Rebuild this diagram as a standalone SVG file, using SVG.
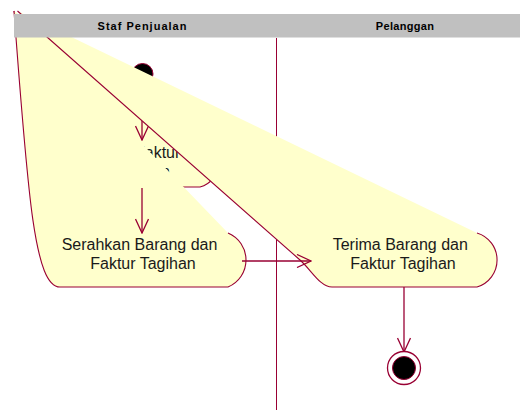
<svg xmlns="http://www.w3.org/2000/svg" width="520" height="410" viewBox="0 0 520 410">
  <style>
    .lane-head { fill: #C0C0C0; }
    .lane-title { font-family: "Liberation Sans", Arial, sans-serif; font-size: 11px; font-weight: bold; fill: #000; text-anchor: middle; }
    .lane-line { stroke: #990033; stroke-width: 1; fill: none; }
    .act-fill { fill: #FFFFCC; stroke: none; }
    .act-edge { fill: none; stroke: #990033; stroke-width: 1.1; }
    .act-text { font-family: "Liberation Sans", Arial, sans-serif; font-size: 16px; fill: #1a1a1a; text-anchor: middle; }
    .flow { fill: none; stroke: #990033; stroke-width: 1.3; marker-end: url(#open-arrow); }
  </style>
  <defs>
    <marker id="open-arrow" markerUnits="userSpaceOnUse" viewBox="0 0 16 14" refX="15" refY="7" markerWidth="16" markerHeight="14" orient="auto">
      <path d="M1,0.5 L15,7 L1,13.5" fill="none" stroke="#990033" stroke-width="1.3"/>
    </marker>
  </defs>

  <rect x="0" y="0" width="520" height="410" fill="#FFFFFF"/>

  <!-- swimlane divider -->
  <line class="lane-line" x1="276.5" y1="38" x2="276.5" y2="410"/>

  <!-- initial state -->
  <g id="start">
    <circle cx="142.5" cy="74" r="10.5" fill="#000" stroke="#990033" stroke-width="1"/>
  </g>

  <!-- activity: Buat Faktur Tagihan -->
  <g id="buat-faktur">
    <path class="act-fill" d="M200,140 A24.3,24.3 0 0 1 200,187 L84,187 C62,187 52,150 14,11 Z"/>
    <path class="act-edge" d="M200,140 A24.3,24.3 0 0 1 200,187 L84,187 C62,187 52,150 14,11"/>
    <text class="act-text" x="139" y="158">Buat Faktur</text>
    <text class="act-text" x="142" y="177">Tagihan</text>
  </g>

  <!-- activity: Serahkan Barang dan Faktur Tagihan -->
  <g id="serahkan-barang">
    <path class="act-fill" d="M228,233 A29.25,29.25 0 0 1 228,287 L60,287 C35,287 28,200 14,11 Z"/>
    <path class="act-edge" d="M228,233 A29.25,29.25 0 0 1 228,287 L60,287 C35,287 28,200 14,11"/>
    <text class="act-text" x="139.5" y="250">Serahkan Barang dan</text>
    <text class="act-text" x="143" y="269">Faktur Tagihan</text>
  </g>

  <!-- flows inside the Staf Penjualan lane -->
  <g id="connectors-staf">
    <line class="flow" x1="142" y1="85" x2="142" y2="140"/>
    <line class="flow" x1="142" y1="188" x2="142" y2="233"/>
  </g>

  <!-- activity: Terima Barang dan Faktur Tagihan -->
  <g id="terima-barang">
    <path class="act-fill" d="M477,233 A28.2,28.2 0 0 1 477,287 L332,287 C320,287 311.4,270 300,260 L17.5,11 Z"/>
    <path class="act-edge" d="M477,233 A28.2,28.2 0 0 1 477,287 L332,287 C320,287 311.4,270 300,260 L17.5,11"/>
    <text class="act-text" x="400.3" y="250">Terima Barang dan</text>
    <text class="act-text" x="403" y="269">Faktur Tagihan</text>
  </g>

  <!-- flows to and inside the Pelanggan lane -->
  <g id="connectors-pelanggan">
    <line class="flow" x1="242" y1="261" x2="311" y2="261"/>
    <line class="flow" x1="404" y1="287" x2="404" y2="352"/>
  </g>

  <!-- final state -->
  <g id="end">
    <circle cx="404" cy="368" r="16.5" fill="#FFFFFF" stroke="#990033" stroke-width="1.3"/>
    <circle cx="404" cy="368" r="11.5" fill="#000" stroke="#990033" stroke-width="1"/>
  </g>

  <!-- swimlane header -->
  <g id="lanes">
    <rect class="lane-head" x="14" y="14" width="506" height="23.5"/>
    <text class="lane-title" x="142.5" y="29.5" letter-spacing="1">Staf Penjualan</text>
    <text class="lane-title" x="405" y="29.5" letter-spacing="0.3">Pelanggan</text>
  </g>
</svg>
